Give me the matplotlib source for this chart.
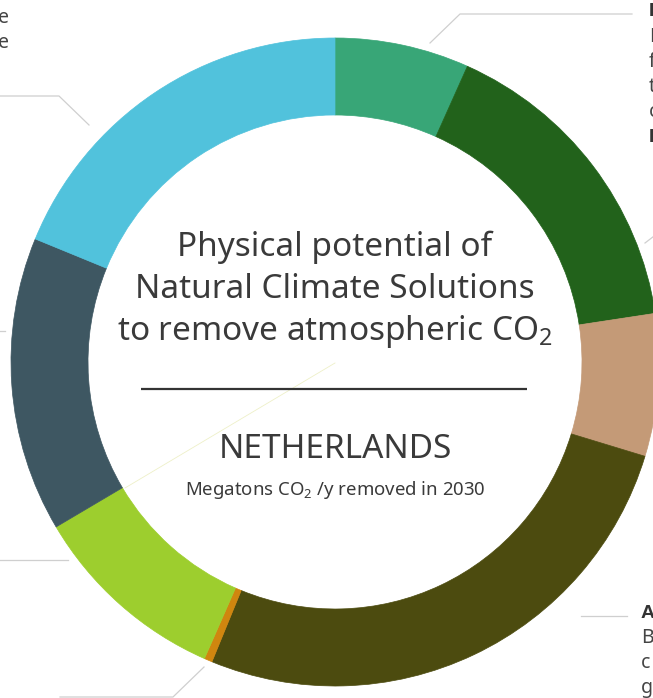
import matplotlib
matplotlib.use('Agg')
import matplotlib.pyplot as plt

W, H = 653, 698

# ring segments, clockwise from 12 o'clock (Mt CO2/y)
segments = ['seg1', 'seg2', 'seg3', 'seg4', 'seg5', 'seg6', 'seg7', 'seg8']
values = [0.67, 1.59, 0.71, 2.65, 0.04, 0.99, 1.47, 1.88]
colors = ['#38a677', '#22621b', '#c49a77', '#4c4b0f', '#d0860f', '#9dce2e', '#3e5762', '#51c2dc']

title_lines = ['Physical potential of', 'Natural Climate Solutions',
               'to remove atmospheric CO$_{\\mathrm{2}}$']
country = 'NETHERLANDS'
unit = 'Megatons CO$_{\\mathrm{2}}$ /y removed in 2030'

plt.rcParams['font.family'] = ['Noto Sans', 'DejaVu Sans']
plt.rcParams['mathtext.fontset'] = 'custom'
plt.rcParams['mathtext.rm'] = 'Noto Sans'
plt.rcParams['mathtext.it'] = 'Noto Sans:italic'

fig = plt.figure(figsize=(W / 100, H / 100), dpi=100)
ax = fig.add_axes([0, 0, 1, 1])

cx, cy, R, ring = 335, 362, 324, 77
wedges, _ = ax.pie(values, colors=colors, startangle=90, counterclock=False,
                   radius=R, center=(cx, H - cy), wedgeprops=dict(width=ring))
for w in wedges:
    w.set_edgecolor(w.get_facecolor())
    w.set_linewidth(0.5)

ax.set_xlim(0, W)
ax.set_ylim(0, H)
ax.axis('off')

def txt(x, y, s, **kw):
    ax.text(x, H - y, s, **kw)

def line(xs, ys, **kw):
    ax.plot(xs, [H - y for y in ys], **kw)

# faint seam artefact from centre
line([335, 125], [363, 488], color='#eef0c8', lw=0.6)

# centre text
dark = '#3a3a3a'
for i, s in enumerate(title_lines):
    txt(cx, 247 + i * 42, s, ha='center', va='center', fontsize=24, color=dark)
line([141, 527], [389, 389], color='#333333', lw=1.6, solid_capstyle='butt')
txt(cx, 450, country, ha='center', va='center', fontsize=24, color=dark)
txt(cx, 490, unit, ha='center', va='center', fontsize=13.4, color=dark)

# leader lines
grey = dict(color='#cfcfcf', lw=0.9)
line([430, 460, 632], [43, 14, 14], **grey)
line([0, 59, 89], [96, 96, 125], **grey)
line([0, 5], [331, 331], **grey)
line([0, 68], [560, 560], **grey)
line([204, 173, 60], [667, 697, 697], **grey)
line([645, 662], [243, 230], **grey)
line([581, 627], [616, 616], **grey)

# label fragments cut by the image edge
side = '#444444'
txt(9, 18, 'e', ha='right', va='center', fontsize=14, color=side)
txt(9, 43, 'e', ha='right', va='center', fontsize=14, color=side)

def frag(x, y, s, bold):
    if bold:
        txt(x, y, s, ha='left', va='center', fontsize=14, color='#333333',
            fontweight='bold', family=['Liberation Sans', 'DejaVu Sans'])
    else:
        txt(x, y, s, ha='left', va='center', fontsize=14, color=side)

right_top = [('P', True), ('F', False), ('f', False), ('t', False), ('c', False), ('I', True)]
for i, (s, b) in enumerate(right_top):
    frag(649, 12 + i * 25, s, b)
right_bot = [('A', True), ('B', False), ('c', False), ('g', False)]
for i, (s, b) in enumerate(right_bot):
    frag(641, 613 + i * 25, s, b)

fig.savefig('out.png', dpi=100)
